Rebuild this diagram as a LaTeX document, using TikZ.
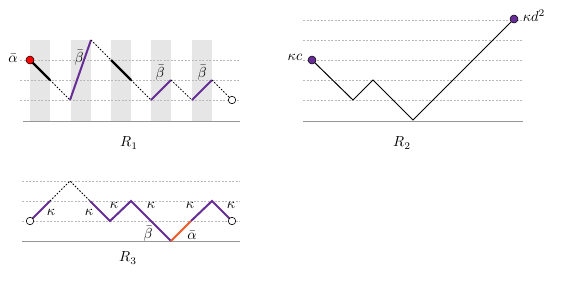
\documentclass[tikz,border=0pt]{standalone}
\usepackage{amsmath}
\definecolor{pur}{RGB}{102,45,150}
\definecolor{org}{RGB}{240,90,40}
\definecolor{band}{RGB}{230,230,230}
\definecolor{gridc}{RGB}{185,185,185}
\definecolor{basec}{RGB}{150,150,150}
\begin{document}
\begin{tikzpicture}[x=1pt,y=-1pt,
  gridline/.style={gridc,dash pattern=on 2pt off 1.5pt,line width=0.6pt},
  baseline/.style={basec,line width=1pt},
  dotted/.style={black,dash pattern=on 1.6pt off 1.6pt,line width=0.8pt},
  heavy/.style={black,line width=2.2pt},
  purp/.style={pur,line width=2pt},
  oran/.style={org,line width=2pt},
  thinpath/.style={black,line width=1pt,line join=miter},
  odot/.style={circle,draw=black,fill=white,inner sep=0pt,minimum size=7.5pt,line width=0.6pt},
  fdot/.style={circle,draw=black,inner sep=0pt,minimum size=8pt,line width=0.5pt},
  lab/.style={inner sep=0pt,scale=1.45}]
\useasboundingbox (0,0) rectangle (575,282);
% ---------- R1 ----------
\foreach \x in {30,71,111,151,192}{\fill[band] (\x,39.5) rectangle ++(20,81.5);}
\foreach \y in {60,80,100}{\draw[gridline] (20,\y) -- (240,\y);}
\draw[baseline] (23,121) -- (240,121);
\coordinate (a0) at (30,60);
\coordinate (a1) at (50,80);
\coordinate (a2) at (70,100);
\coordinate (a3) at (91,40);
\coordinate (a4) at (111,60);
\coordinate (a5) at (131,80);
\coordinate (a6) at (151,100);
\coordinate (a7) at (171,80);
\coordinate (a8) at (192,100);
\coordinate (a9) at (212,80);
\coordinate (a10) at (232,100);
\draw[heavy] (a0) -- (a1);
\draw[dotted] (a1) -- (a2);
\draw[purp] (a2) -- (a3);
\draw[dotted] (a3) -- (a4);
\draw[heavy] (a4) -- (a5);
\draw[dotted] (a5) -- (a6);
\draw[purp] (a6) -- (a7);
\draw[dotted] (a7) -- (a8);
\draw[purp] (a8) -- (a9);
\draw[dotted] (a9) -- (a10);
\node[fdot,fill=red] (sa) at (a0) {};
\node[odot] (ea) at (a10) {};
\node[lab] (la) at (13,58) {$\bar\alpha$};
\node[lab] (lb1) at (79,58) {$\bar\beta$};
\node[lab] (lb2) at (160,73) {$\bar\beta$};
\node[lab] (lb3) at (202,73) {$\bar\beta$};
\node[lab] (r1) at (129,143) {$R_1$};
% ---------- R2 ----------
\foreach \y in {20,40,60,80,100}{\draw[gridline] (303,\y) -- (523,\y);}
\draw[baseline] (303,121) -- (523,121);
\coordinate (b0) at (312,60);
\coordinate (b1) at (353,100);
\coordinate (b2) at (373,80);
\coordinate (b3) at (413,120);
\coordinate (b4) at (514,19);
\draw[thinpath] (b0) -- (b1) -- (b2) -- (b3) -- (b4);
\node[fdot,fill=pur] (sb) at (b0) {};
\node[fdot,fill=pur] (eb) at (b4) {};
\node[lab] (lkc) at (295,57) {$\kappa c$};
\node[lab] (lkd) at (534,16) {$\kappa d^2$};
\node[lab] (r2) at (402,143) {$R_2$};
% ---------- R3 ----------
\foreach \y in {181,201,221}{\draw[gridline] (22,\y) -- (240,\y);}
\draw[baseline] (22,241.5) -- (240,241.5);
\coordinate (c0) at (30,221);
\coordinate (c1) at (50,201);
\coordinate (c2) at (70,181);
\coordinate (c3) at (90,201);
\coordinate (c4) at (110,221);
\coordinate (c5) at (131,201);
\coordinate (c6) at (171,241);
\coordinate (c7) at (191,221);
\coordinate (c8) at (212,201);
\coordinate (c9) at (232,221);
\draw[purp] (c0) -- (c1);
\draw[dotted] (c1) -- (c2) -- (c3);
\draw[purp,line join=miter] (c3) -- (c4) -- (c5) -- (c6);
\draw[oran] (c6) -- (c7);
\draw[purp,line join=miter] (c7) -- (c8) -- (c9);
\node[odot] (sc) at (c0) {};
\node[odot] (ec) at (c9) {};
\node[lab] (k1) at (51,212) {$\kappa$};
\node[lab] (k2) at (89,212) {$\kappa$};
\node[lab] (k3) at (114,205) {$\kappa$};
\node[lab] (k4) at (151,205) {$\kappa$};
\node[lab] (k5) at (190,205) {$\kappa$};
\node[lab] (k6) at (231,205) {$\kappa$};
\node[lab] (lb4) at (148,234) {$\bar\beta$};
\node[lab] (la2) at (192,235) {$\bar\alpha$};
\node[lab] (r3) at (128,258) {$R_3$};
\end{tikzpicture}
\end{document}
